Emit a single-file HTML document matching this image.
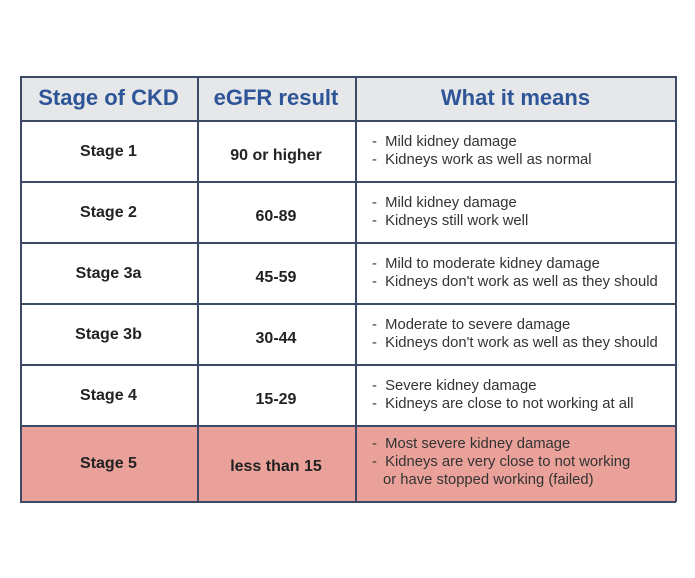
<!DOCTYPE html>
<html><head><style>
body{margin:0;width:695px;height:578px;background:#fff;font-family:"Liberation Sans",sans-serif;position:relative;overflow:hidden}
.c{position:absolute;box-sizing:border-box;display:flex;align-items:center;justify-content:center}
.h{color:#2d5597;font-weight:bold;font-size:22px;background:#e6e7e9}
.b{font-weight:bold;font-size:16px;color:#222}
.s{padding-top:3px}
.d{justify-content:flex-start;font-size:14.8px;color:#333;line-height:18px;padding-left:17px}
.d div div{white-space:nowrap}
.p{background:#e9a19a}
.hl{position:absolute;left:20px;width:656px;height:1.5px;background:#3c4a66}
.vl{position:absolute;top:76px;height:426px;width:1.5px;background:#3c4a66}
</style></head><body>
<div class="c h" style="left:20px;top:76px;width:177px;height:44px">Stage of CKD</div>
<div class="c h" style="left:197px;top:76px;width:158px;height:44px">eGFR result</div>
<div class="c h" style="left:355px;top:76px;width:321px;height:44px">What it means</div>

<div class="c b s" style="left:20px;top:120px;width:177px;height:61px">Stage 1</div>
<div class="c b" style="left:197px;top:120px;width:158px;height:61px;padding-top:10px">90 or higher</div>
<div class="c d" style="left:355px;top:120px;width:321px;height:61px"><div><div>-&nbsp; Mild kidney damage</div><div>-&nbsp; Kidneys work as well as normal</div></div></div>

<div class="c b s" style="left:20px;top:181px;width:177px;height:61px">Stage 2</div>
<div class="c b" style="left:197px;top:181px;width:158px;height:61px;padding-top:10px">60-89</div>
<div class="c d" style="left:355px;top:181px;width:321px;height:61px"><div><div>-&nbsp; Mild kidney damage</div><div>-&nbsp; Kidneys still work well</div></div></div>

<div class="c b s" style="left:20px;top:242px;width:177px;height:61px">Stage 3a</div>
<div class="c b" style="left:197px;top:242px;width:158px;height:61px;padding-top:10px">45-59</div>
<div class="c d" style="left:355px;top:242px;width:321px;height:61px"><div><div>-&nbsp; Mild to moderate kidney damage</div><div>-&nbsp; Kidneys don't work as well as they should</div></div></div>

<div class="c b s" style="left:20px;top:303px;width:177px;height:61px">Stage 3b</div>
<div class="c b" style="left:197px;top:303px;width:158px;height:61px;padding-top:10px">30-44</div>
<div class="c d" style="left:355px;top:303px;width:321px;height:61px"><div><div>-&nbsp; Moderate to severe damage</div><div>-&nbsp; Kidneys don't work as well as they should</div></div></div>

<div class="c b s" style="left:20px;top:364px;width:177px;height:61px">Stage 4</div>
<div class="c b" style="left:197px;top:364px;width:158px;height:61px;padding-top:10px">15-29</div>
<div class="c d" style="left:355px;top:364px;width:321px;height:61px"><div><div>-&nbsp; Severe kidney damage</div><div>-&nbsp; Kidneys are close to not working at all</div></div></div>

<div class="c b p" style="left:20px;top:425px;width:177px;height:77px">Stage 5</div>
<div class="c b p" style="left:197px;top:425px;width:158px;height:77px;padding-top:6px">less than 15</div>
<div class="c d p" style="left:355px;top:425px;width:321px;height:77px;padding-bottom:4px"><div><div>-&nbsp; Most severe kidney damage</div><div>-&nbsp; Kidneys are very close to not working</div><div style="padding-left:11px">or have stopped working (failed)</div></div></div>

<div class="hl" style="top:76px"></div>
<div class="hl" style="top:120px"></div>
<div class="hl" style="top:181px"></div>
<div class="hl" style="top:242px"></div>
<div class="hl" style="top:303px"></div>
<div class="hl" style="top:364px"></div>
<div class="hl" style="top:425px"></div>
<div class="hl" style="top:501px"></div>
<div class="vl" style="left:20px"></div>
<div class="vl" style="left:197px"></div>
<div class="vl" style="left:355px"></div>
<div class="vl" style="left:675px"></div>
</body></html>
